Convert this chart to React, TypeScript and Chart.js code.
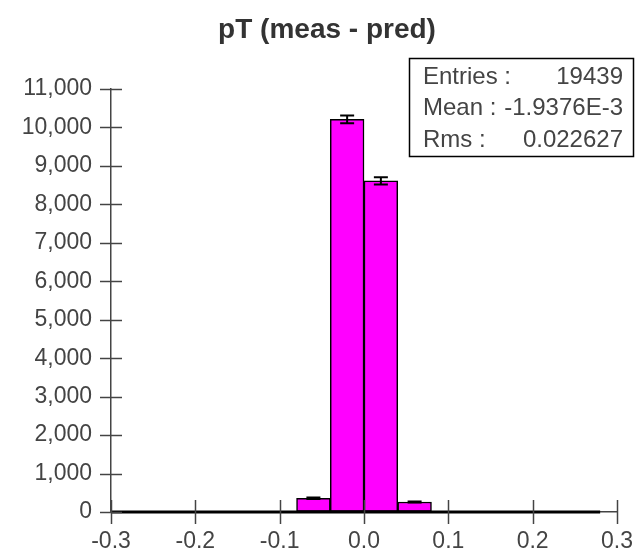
import React, { useEffect, useRef } from "react";
import { Chart, registerables } from "chart.js";

Chart.register(...registerables);

const titleText = "pT (meas - pred)";
const binLow = [-0.32, -0.28, -0.24, -0.2, -0.16, -0.12, -0.08, -0.04, 0, 0.04, 0.08, 0.12, 0.16, 0.2, 0.24];
const binWidth = 0.04;
const counts = [0, 0, 0, 0, 0, 0, 356, 10213, 8610, 260, 0, 0, 0, 0, 0];
const statLabels = ["Entries :", "Mean :", "Rms :"];
const statValues = ["19439", "-1.9376E-3", "0.022627"];
const xMin = -0.3;
const xMax = 0.3;
const xStep = 0.1;
const yMin = 0;
const yMax = 11000;
const yStep = 1000;

const FONT = "'Liberation Sans', Arial, sans-serif";

const decorPlugin = {
  id: "decor",
  afterDatasetsDraw(chart: any) {
    const ctx = chart.ctx;
    const xs = chart.scales.x;
    const ys = chart.scales.y;
    ctx.save();
    ctx.strokeStyle = "#000";
    ctx.lineWidth = 2;
    counts.forEach((n, i) => {
      if (n <= 0) return;
      const cx = xs.getPixelForValue(binLow[i] + binWidth / 2);
      const e = Math.sqrt(n);
      const yt = ys.getPixelForValue(n + e);
      const yb = ys.getPixelForValue(n - e);
      ctx.beginPath();
      ctx.moveTo(cx, yt);
      ctx.lineTo(cx, yb);
      ctx.moveTo(cx - 7, yt);
      ctx.lineTo(cx + 7, yt);
      ctx.moveTo(cx - 7, yb);
      ctx.lineTo(cx + 7, yb);
      ctx.stroke();
    });
    ctx.restore();
  },
  afterDraw(chart: any) {
    const ctx = chart.ctx;
    const xs = chart.scales.x;
    const ys = chart.scales.y;
    const area = chart.chartArea;
    ctx.save();
    ctx.strokeStyle = "#444";
    ctx.lineWidth = 1.5;
    ys.ticks.forEach((t: any) => {
      const y = Math.round(ys.getPixelForValue(t.value)) + 0.5;
      ctx.beginPath();
      ctx.moveTo(area.left - 11, y);
      ctx.lineTo(area.left + 11, y);
      ctx.stroke();
    });
    xs.ticks.forEach((t: any) => {
      const x = Math.round(xs.getPixelForValue(t.value)) + 0.5;
      ctx.beginPath();
      ctx.moveTo(x, area.bottom - 12);
      ctx.lineTo(x, area.bottom + 12);
      ctx.stroke();
    });
    ctx.fillStyle = "#333";
    ctx.font = "bold 28px " + FONT;
    ctx.textAlign = "center";
    ctx.textBaseline = "alphabetic";
    ctx.fillText(titleText, 327, 38);
    const bx = 409.5, by = 58.5, bw = 224, bh = 98;
    ctx.fillStyle = "#fff";
    ctx.fillRect(bx, by, bw, bh);
    ctx.strokeStyle = "#000";
    ctx.lineWidth = 1.5;
    ctx.strokeRect(bx, by, bw, bh);
    ctx.font = "24px " + FONT;
    ctx.fillStyle = "#444";
    ctx.textBaseline = "middle";
    statLabels.forEach((lab, i) => {
      const y = 77 + i * 31.5;
      ctx.textAlign = "left";
      ctx.fillText(lab, 423, y);
      ctx.textAlign = "right";
      ctx.fillText(statValues[i], 623, y);
    });
    ctx.restore();
  },
};

export default function App() {
  const canvasRef = useRef<HTMLCanvasElement | null>(null);

  useEffect(() => {
    document.body.style.margin = "0";
    const canvas = canvasRef.current;
    if (!canvas) return;
    const barData = binLow.map((lo, i) => ({ x: lo + binWidth / 2, y: counts[i] }));
    const lastEdge = binLow[binLow.length - 1] + binWidth;
    const chart = new Chart(canvas, {
      type: "bar",
      data: {
        datasets: [
          {
            type: "bar",
            data: barData as any,
            backgroundColor: "#ff00ff",
            borderColor: "#000",
            borderWidth: 1.5,
            borderSkipped: false,
            barPercentage: 1,
            categoryPercentage: 1,
            order: 2,
          } as any,
          {
            type: "line",
            data: [
              { x: binLow[0], y: 0 },
              { x: lastEdge, y: 0 },
            ] as any,
            borderColor: "#000",
            borderWidth: 3,
            pointRadius: 0,
            clip: { left: 0, top: 0, right: 0, bottom: 4 },
            order: 1,
          } as any,
        ],
      },
      options: {
        responsive: false,
        animation: false,
        layout: { padding: { top: 89, right: 16, bottom: 0, left: 0 } },
        plugins: {
          legend: { display: false },
          title: { display: false },
          tooltip: { enabled: false },
        },
        scales: {
          x: {
            type: "linear",
            min: xMin,
            max: xMax,
            offset: false,
            grid: { display: true, drawOnChartArea: false, drawTicks: true, tickLength: 11, color: "rgba(0,0,0,0)" },
            border: { display: true, color: "#444", width: 1.5 },
            ticks: {
              stepSize: xStep,
              padding: 5,
              color: "#444",
              font: { family: FONT, size: 23 },
              maxRotation: 0,
              callback: (v: any) => Number(v).toFixed(1),
            },
            afterFit: (s: any) => {
              s.height = 41;
            },
          },
          y: {
            type: "linear",
            min: yMin,
            max: yMax,
            grid: { display: true, drawOnChartArea: false, drawTicks: true, tickLength: 11, color: "rgba(0,0,0,0)" },
            border: { display: true, color: "#444", width: 1.5 },
            ticks: {
              stepSize: yStep,
              padding: 8,
              color: "#444",
              font: { family: FONT, size: 23 },
            },
            afterFit: (s: any) => {
              s.width = 111;
            },
          },
        },
      },
      plugins: [decorPlugin],
    });
    return () => chart.destroy();
  }, []);

  return (
    <div style={{ position: "absolute", left: 0, top: 0, width: 638, height: 553, background: "#fff" }}>
      <canvas ref={canvasRef} width={638} height={553} style={{ display: "block" }} />
    </div>
  );
}
